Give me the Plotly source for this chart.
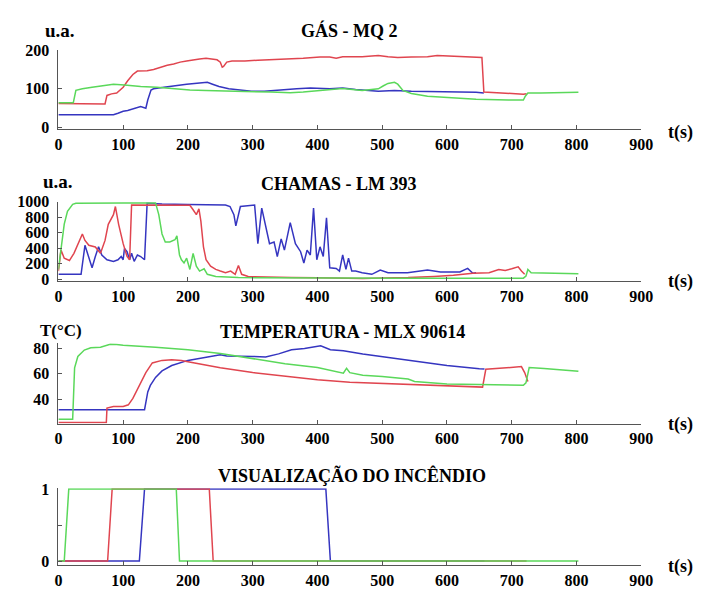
import plotly.graph_objects as go

# ---------------- data (time s, value) ----------------
gas_red = [(0,62),(70,62),(72,61),(75,83),(82,87),(90,89),(95,96),(100,104),(107,121),(115,137),
           (122,146),(137,147),(147,150),(158,156),(168,161),(178,164),(188,169),(198,172),(208,175),
           (218,177),(228,179),(238,177),(245,175),(250,169),(253,156),(255,158),(260,169),(268,172),
           (288,172),(308,174),(328,175),(353,177),(378,179),(404,182),(419,182),(429,179),(439,183),
           (469,183),(494,186),(509,183),(524,181),(545,182),(570,183),(585,186),(610,184),(635,183),
           (650,182),(654,181),(657,92),(665,91),(685,89),(705,87),(718,86),(723,87)]
gas_blue = [(0,33),(85,33),(92,37),(100,42),(107,44),(117,50),(127,54),(135,50),(138,71),(143,97),
            (147,100),(163,104),(178,108),(198,112),(218,115),(230,117),(238,112),(248,106),(263,100),
            (278,97),(298,94),(318,94),(338,97),(368,100),(389,102),(419,100),(439,102),(459,98),
            (494,94),(519,96),(545,94),(595,93),(645,91),(657,89)]
gas_green = [(0,64),(23,64),(27,96),(37,100),(52,104),(67,108),(85,112),(102,110),(127,106),(152,104),
             (178,100),(203,97),(228,96),(258,94),(288,93),(328,92),(358,90),(378,92),(409,96),(439,101),
             (469,96),(494,100),(502,108),(509,114),(519,117),(524,112),(532,96),(545,88),(570,81),
             (595,78),(645,73),(695,71),(718,71),(721,81),(725,89),(745,89),(770,90),(803,91)]

flame_red = [(0,104),(4,375),(9,270),(17,240),(24,333),(32,500),(37,583),(41,500),(47,437),(57,416),
             (65,333),(72,500),(77,708),(85,833),(88,938),(93,708),(100,458),(106,292),(110,250),
             (113,958),(117,958),(150,960),(180,955),(203,955),(208,896),(213,833),(217,908),(220,750),
             (224,417),(228,250),(235,167),(243,125),(250,104),(258,83),(266,104),(273,62),(278,175),
             (283,62),(293,33),(320,25),(360,20),(400,18),(430,10),(470,8),(500,15),(540,20),(580,35),
             (610,50),(640,75),(665,83),(680,125),(690,112),(700,133),(710,158),(715,104),(720,62)]
flame_blue = [(0,62),(35,62),(41,437),(46,312),(52,146),(57,292),(62,417),(67,312),(75,250),(85,229),
              (92,250),(97,292),(100,250),(102,396),(106,354),(110,250),(113,333),(117,229),(122,312),
              (127,292),(133,250),(137,980),(160,970),(200,965),(258,958),(265,938),(271,833),(274,688),
              (278,833),(281,938),(303,958),(308,458),(314,917),(321,667),(326,458),(333,480),(338,292),
              (344,520),(349,375),(358,729),(366,458),(374,354),(379,208),(384,375),(389,312),(394,917),
              (399,250),(404,417),(409,292),(414,792),(419,146),(429,138),(434,104),(439,312),(444,125),
              (448,271),(453,104),(459,104),(469,83),(484,62),(497,117),(509,83),(539,83),(570,117),
              (590,92),(620,92),(632,138),(640,75),(645,83)]
flame_green = [(0,125),(4,400),(9,710),(14,875),(22,967),(27,980),(60,985),(100,985),(150,985),(155,833),
               (160,583),(165,480),(172,480),(180,508),(183,560),(187,312),(190,250),(194,208),(198,270),
               (203,125),(208,333),(213,167),(218,104),(225,133),(230,62),(243,33),(278,20),(350,15),
               (450,12),(550,10),(650,10),(718,12),(722,40),(725,125),(730,83),(760,75),(803,70)]

temp_red = [(0,21.8),(60,21.5),(74,21.8),(75,33.2),(85,34.4),(100,34.4),(108,35.7),(115,40.7),(125,50.9),
            (135,61),(145,68.6),(160,70.6),(175,71.1),(190,70.6),(200,69.6),(250,64.8),(300,61),(350,58),
            (400,55.4),(450,53.4),(500,52.6),(550,51.5),(600,50.9),(655,49.6),(660,63.6),(700,64.8),
            (715,65.7),(720,61),(725,54)]
temp_blue = [(0,31.9),(133,31.9),(138,45.8),(142,50.9),(150,57.2),(160,62.3),(175,66.6),(190,69),(200,70.6),
             (250,75),(260,74),(300,73.7),(320,73.2),(340,75.7),(360,79),(380,80),(400,81.8),(405,82),
             (420,79),(440,78.2),(470,75.7),(500,73.7),(550,70),(600,66.6),(650,64),(658,63.8)]
temp_green = [(0,24.3),(22,24.3),(25,64.8),(30,73.7),(40,78.7),(50,80.5),(65,81),(80,83.3),(90,83),(100,82.5),
              (150,81),(200,79),(250,76),(300,72),(350,68),(400,65),(440,60.5),(445,64.3),(450,61),(470,59),
              (500,58),(540,56),(550,54),(600,52),(650,51.4),(700,51),(718,51),(722,53),(727,65),(750,64.3),
              (800,62),(803,62)]

vis_red = [(0,0),(76,0),(83,1),(233,1),(239,0),(723,0)]
vis_blue = [(0,0),(125,0),(133,1),(413,1),(420,0),(658,0)]
vis_green = [(0,0),(9,0),(16,1),(182,1),(187,0),(803,0)]

x_ticks = [0, 100, 200, 300, 400, 500, 600, 700, 800, 900]
gas_ticks = [0, 100, 200]
flame_ticks = [0, 200, 400, 600, 800, 1000]
temp_ticks = [40, 60, 80]
vis_ticks = [0, 0.5, 1]
vis_ticktext = ["0", "", "1"]

titles = ["GÁS - MQ 2", "CHAMAS - LM 393", "TEMPERATURA - MLX 90614", "VISUALIZAÇÃO DO INCÊNDIO"]
ylabels = ["u.a.", "u.a.", "T(°C)"]
xlabel = "t(s)"

# ---------------- figure ----------------
RED = "#e0454f"
BLUE = "#3535c0"
GREEN = "#5ad85a"
FONT = "Liberation Serif"
PAGE_W, PAGE_H = 713, 597
OFF = 8                      # default body margin of the page
W, H = PAGE_W - 2 * OFF, PAGE_H - 2 * OFF

fig = go.Figure()
panels = [
    (gas_blue, gas_red, gas_green),
    (flame_blue, flame_red, flame_green),
    (temp_blue, temp_red, temp_green),
    (vis_blue, vis_red, vis_green),
]
for i, series in enumerate(panels):
    ax = "" if i == 0 else str(i + 1)
    for data, col in zip(series, [BLUE, RED, GREEN]):
        t, v = zip(*data)
        fig.add_trace(go.Scatter(x=list(t), y=list(v), mode="lines",
                                 line=dict(color=col, width=1.5),
                                 xaxis="x" + ax, yaxis="y" + ax, showlegend=False,
                                 hoverinfo="skip"))


def px(x, y):
    return (x - OFF) / W, 1 - (y - OFF) / H


xdom = [px(55.5, 0)[0], px(652, 0)[0]]
ypix = [(43.3, 125.3), (200, 282.4), (346.4, 429.3), (496.3, 576)]
ydoms = [[px(0, b)[1], px(0, t)[1]] for t, b in ypix]
yranges = [[-5, 200], [-30, 1000], [21, 84], [-0.06, 1.01]]
yticks = [(gas_ticks, [str(v) for v in gas_ticks]),
          (flame_ticks, [str(v) for v in flame_ticks]),
          (temp_ticks, [str(v) for v in temp_ticks]),
          (vis_ticks, vis_ticktext)]

tickfont = dict(family=FONT, size=16, color="black", weight="bold")
axis_common = dict(showline=True, linecolor="#555", linewidth=1, ticks="inside", ticklen=4,
                   tickcolor="#555", showgrid=False, zeroline=False, tickfont=tickfont)
layout = dict(width=W, height=H, margin=dict(l=0, r=0, t=0, b=0),
              paper_bgcolor="white", plot_bgcolor="white", showlegend=False)
for i in range(4):
    ax = "" if i == 0 else str(i + 1)
    layout["xaxis" + ax] = dict(domain=xdom, range=[0, 900], tickvals=x_ticks,
                                ticktext=[str(v) for v in x_ticks], anchor="y" + ax, **axis_common)
    tv, tt = yticks[i]
    layout["yaxis" + ax] = dict(domain=ydoms[i], range=yranges[i], tickvals=tv, ticktext=tt,
                                anchor="x" + ax, ticklabelstandoff=5, **axis_common)
fig.update_layout(**layout)

ann = []
title_pos = [(353, 23), (343, 182), (346, 335), (356, 483)]
for txt, (x, y) in zip(titles, title_pos):
    xp, yp = px(x, y)
    ann.append(dict(text="<b>%s</b>" % txt, x=xp, y=yp, xref="paper", yref="paper",
                    xanchor="center", yanchor="middle", showarrow=False,
                    font=dict(family=FONT, size=18, color="black")))
ylab_pos = [(57, 23), (55, 179), (58, 333)]
ylab_size = [19, 19, 17]
for txt, (x, y), s in zip(ylabels, ylab_pos, ylab_size):
    xp, yp = px(x, y)
    ann.append(dict(text="<b>%s</b>" % txt, x=xp, y=yp, xref="paper", yref="paper",
                    xanchor="center", yanchor="middle", showarrow=False,
                    font=dict(family=FONT, size=s, color="black")))
for y in [128, 282, 430, 577]:
    xp, yp = px(692, y)
    ann.append(dict(text="<b>%s</b>" % xlabel, x=xp, y=yp, xref="paper", yref="paper",
                    xanchor="center", yanchor="middle", showarrow=False,
                    font=dict(family=FONT, size=18, color="black")))
fig.update_layout(annotations=ann)

fig.write_html("out.html", config={"displayModeBar": False})
